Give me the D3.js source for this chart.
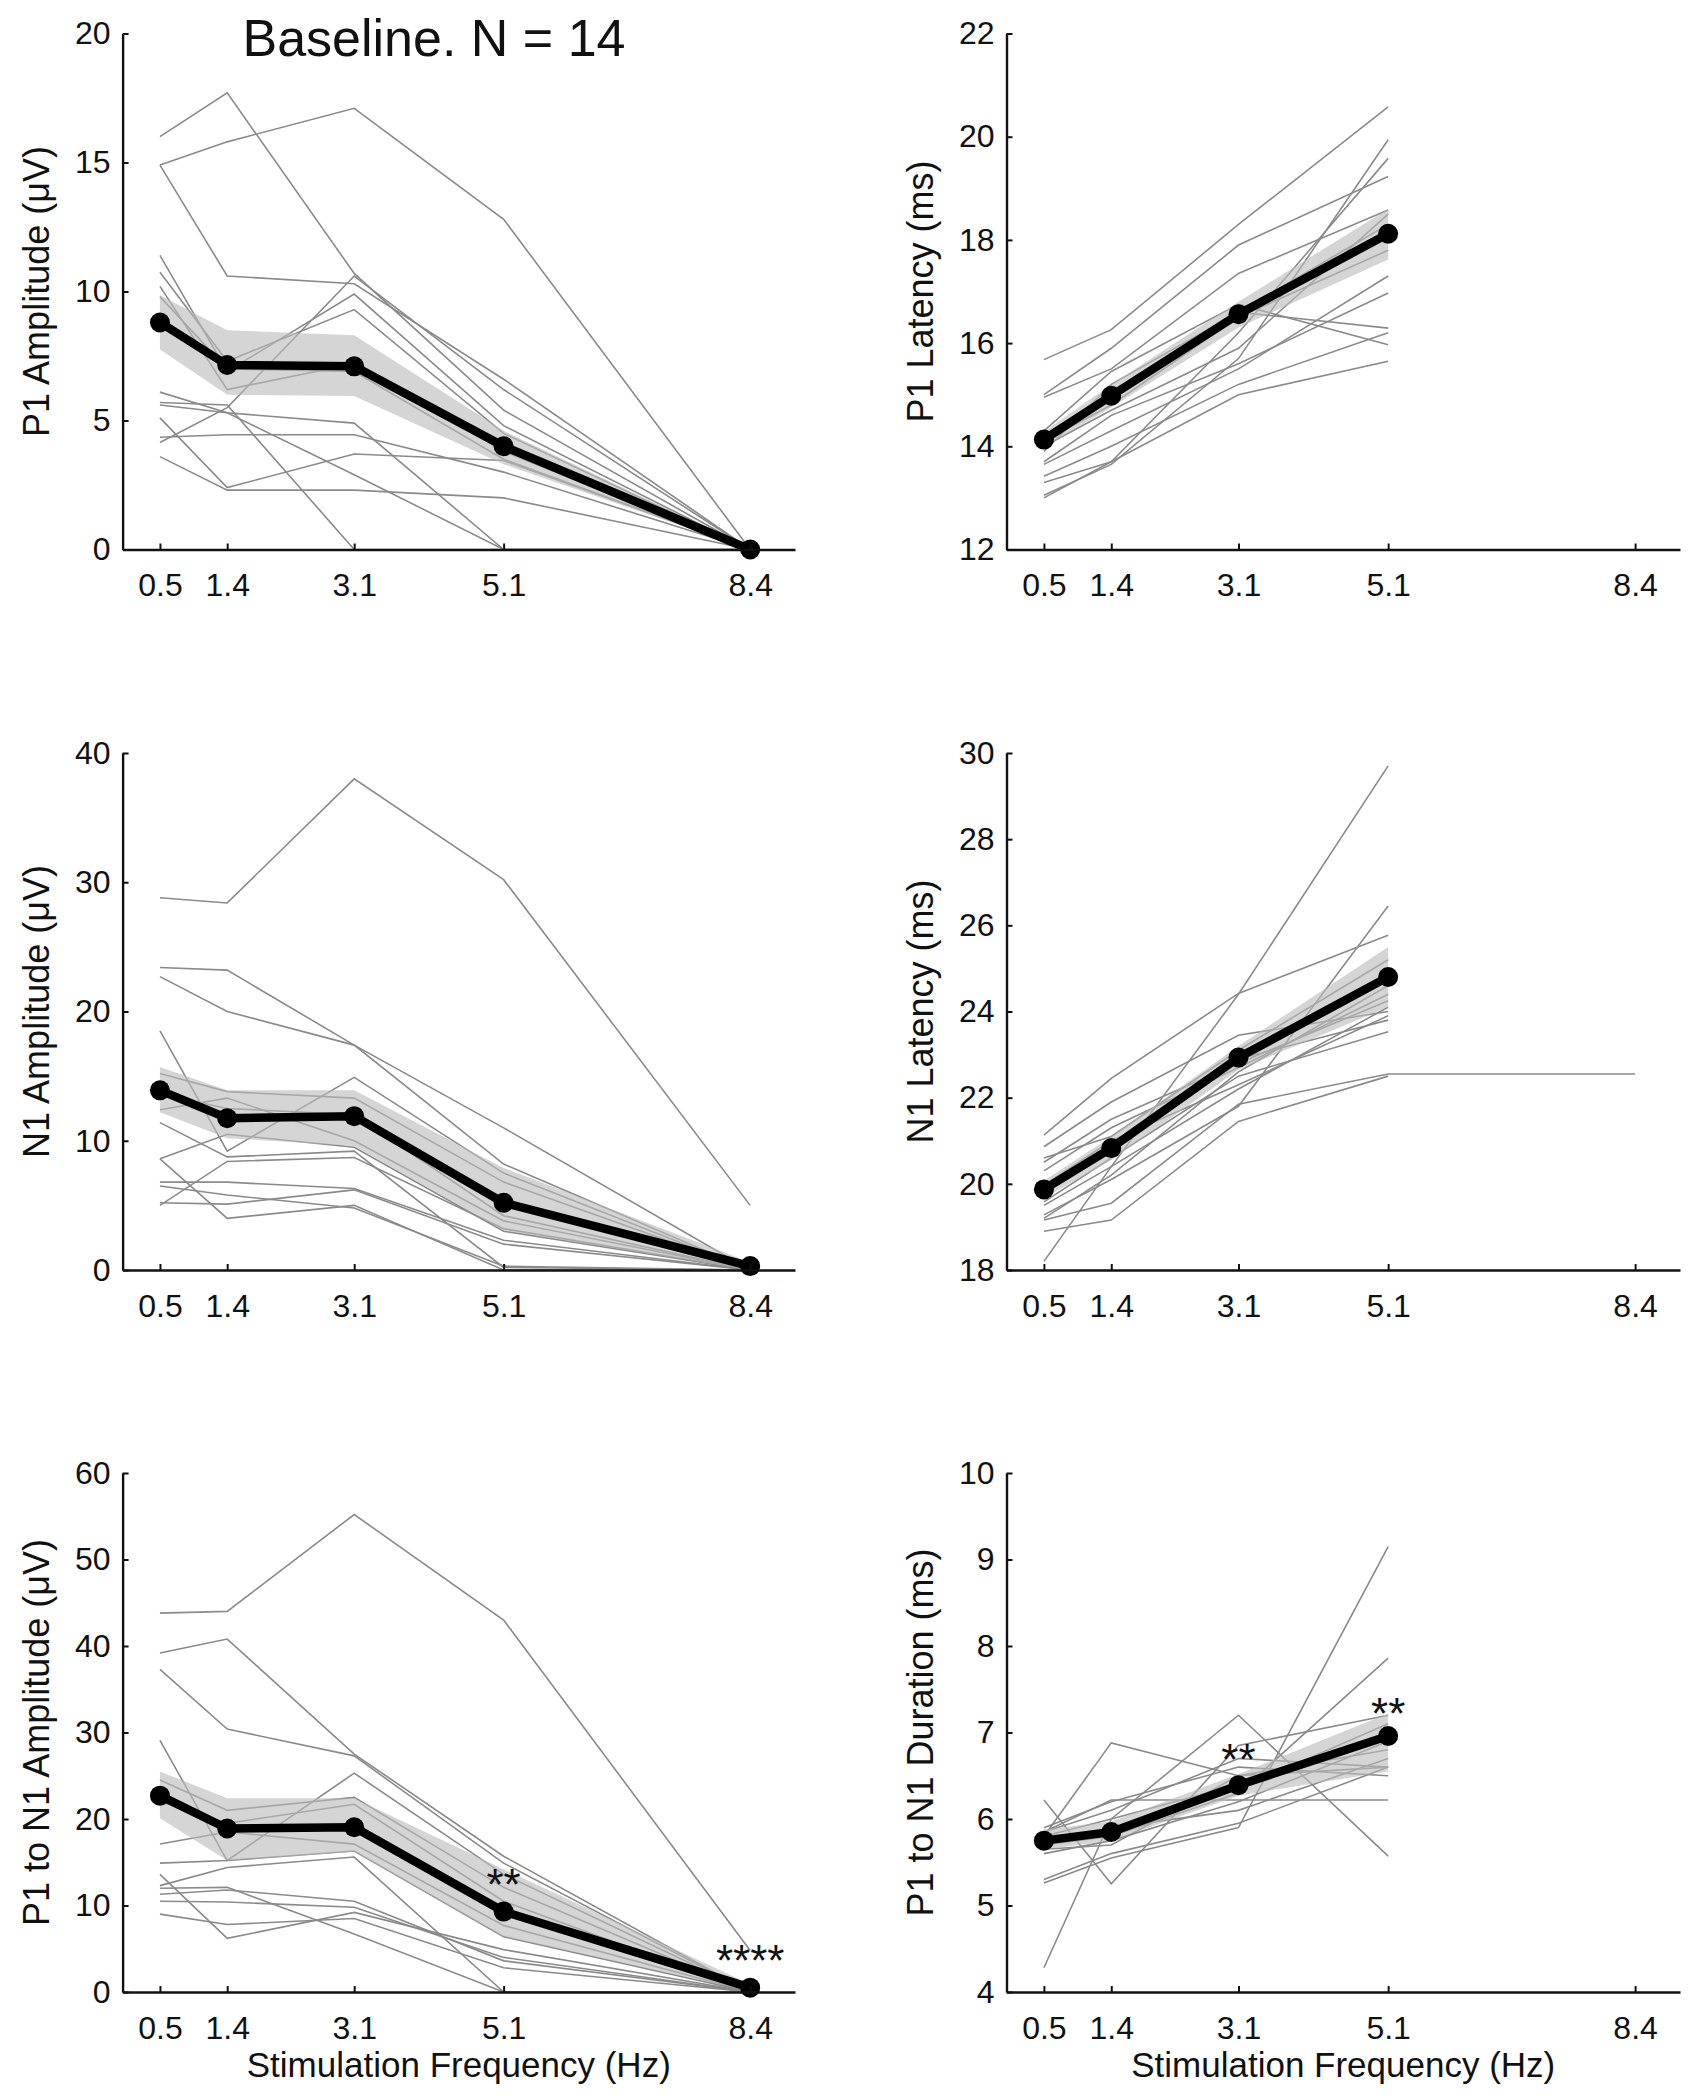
<!DOCTYPE html>
<html><head><meta charset="utf-8">
<script src="https://cdn.jsdelivr.net/npm/d3@7"></script>
<style>
body{margin:0;background:#fff;}
text{font-family:"Liberation Sans",Arial,Helvetica,sans-serif;fill:#111;}
</style>
</head><body>
<svg id="chart" width="1695" height="2100"></svg>
<script>
// ---------------- DATA ----------------
const frequencies = [0.5, 1.4, 3.1, 5.1, 8.4];
const xTickLabels = ["0.5", "1.4", "3.1", "5.1", "8.4"];
const titleText = "Baseline. N = 14";
const xAxisTitle = "Stimulation Frequency (Hz)";

// P1 amplitude (µV)
const p1AmpTicks = [0, 5, 10, 15, 20];
const p1AmpMean = [8.8, 7.15, 7.1, 4.0, 0.0];
const p1AmpLo   = [7.75, 6.0, 5.95, 3.3, 0.0];
const p1AmpHi   = [9.85, 8.5, 8.3, 4.6, 0.05];
const p1AmpSubjects = [
  [16.0, 17.7, 10.7, 5.4, 0],
  [14.9, 15.8, 17.1, 12.8, 0],
  [14.9, 10.6, 10.3, 6.6, 0],
  [11.4, 6.9, 9.9, 4.8, 0],
  [10.75, 7.3, 9.3, 4.5, 0],
  [10.2, 6.2, 7.2, 3.8, 0],
  [9.8, 7.0, 6.9, 3.5, 0],
  [6.1, 5.3, 4.9, 0, 0],
  [5.7, 5.6, 0, 0, 0],
  [5.6, 5.3, 2.9, 0, 0],
  [5.1, 2.4, 3.7, 3.45, 0],
  [4.35, 4.45, 4.45, 3.0, 0],
  [4.15, 5.5, 10.6, 6.2, 0],
  [3.6, 2.3, 2.3, 2.0, 0]
];

// P1 latency (ms)
const p1LatTicks = [12, 14, 16, 18, 20, 22];
const p1LatMean = [14.13, 14.98, 16.56, 18.12];
const p1LatLo   = [13.98, 14.75, 16.3, 17.62];
const p1LatHi   = [14.28, 15.2, 16.8, 18.6];
const p1LatSubjects = [
  [15.68, 16.26, 18.3, 20.58],
  [15.0, 15.9, 17.9, 19.23],
  [14.95, 15.5, 17.35, 18.58],
  [13.05, 13.65, 15.7, 19.94],
  [13.3, 13.7, 16.2, 19.58],
  [14.2, 15.0, 16.6, 18.3],
  [14.1, 14.8, 16.5, 17.8],
  [14.3, 15.45, 16.75, 15.97],
  [13.9, 15.2, 16.6, 16.29],
  [13.7, 14.6, 15.6, 16.97],
  [13.65, 14.3, 15.5, 17.3],
  [13.42, 14.0, 15.2, 16.2],
  [13.0, 13.7, 15.0, 15.65],
  [14.0, 14.7, 15.9, 18.5]
];

// N1 amplitude (µV)
const n1AmpTicks = [0, 10, 20, 30, 40];
const n1AmpMean = [13.9, 11.75, 11.9, 5.2, 0.3];
const n1AmpLo   = [12.2, 10.2, 9.6, 3.05, 0.0];
const n1AmpHi   = [15.7, 13.9, 13.9, 7.9, 0.6];
const n1AmpSubjects = [
  [28.8, 28.4, 38.0, 30.2, 5.0],
  [23.4, 23.2, 17.4, 11.0, 0],
  [22.7, 20.0, 17.4, 8.2, 0],
  [18.5, 9.2, 14.9, 7.5, 0],
  [15.2, 13.8, 13.3, 6.8, 0],
  [13.6, 12.5, 12.0, 4.2, 0],
  [12.4, 13.3, 10.0, 3.8, 0],
  [11.4, 8.75, 9.2, 0.2, 0],
  [8.6, 10.5, 9.5, 3.0, 0],
  [8.6, 4.0, 5.0, 0, 0],
  [6.8, 6.8, 6.3, 2.3, 0],
  [6.5, 5.8, 4.8, 0.3, 0],
  [5.2, 5.1, 6.2, 2.0, 0],
  [5.0, 8.4, 8.7, 3.2, 0]
];

// N1 latency (ms)
const n1LatTicks = [18, 20, 22, 24, 26, 28, 30];
const n1LatMean = [19.87, 20.83, 22.93, 24.8];
const n1LatLo   = [19.67, 20.55, 22.65, 24.1];
const n1LatHi   = [20.07, 21.1, 23.2, 25.5];
const n1LatSubjects = [
  [18.2, 20.4, 24.4, 29.7],
  [21.13, 22.45, 24.42, 25.77],
  [19.28, 20.1, 21.8, 26.45],
  [20.86, 21.9, 23.45, 24.0],
  [20.5, 21.5, 22.8, 24.25],
  [19.83, 20.9, 22.9, 23.8],
  [19.58, 20.6, 22.5, 23.53],
  [19.5, 20.4, 22.2, 24.1],
  [19.16, 19.55, 21.85, 22.55, 22.55],
  [18.9, 19.16, 21.45, 22.5],
  [19.2, 20.2, 22.6, 24.6],
  [19.97, 21.0, 22.3, 23.9],
  [20.6, 21.1, 23.1, 25.2],
  [20.3, 21.3, 22.7, 24.4]
];

// P1 to N1 amplitude (µV)
const p1n1AmpTicks = [0, 10, 20, 30, 40, 50, 60];
const p1n1AmpMean = [22.7, 18.9, 19.05, 9.3, 0.5];
const p1n1AmpLo   = [20.1, 15.2, 16.2, 6.4, 0.1];
const p1n1AmpHi   = [25.5, 22.4, 22.4, 14.2, 0.9];
const p1n1AmpSubjects = [
  [43.8, 44.0, 55.2, 43.0, 4.8],
  [39.2, 40.8, 27.5, 15.7, 0],
  [37.3, 30.4, 27.3, 14.9, 0],
  [29.1, 15.2, 25.3, 13.6, 0],
  [24.5, 21.0, 22.5, 12.1, 0],
  [22.0, 19.5, 21.7, 10.5, 0],
  [17.1, 18.5, 17.1, 7.7, 0],
  [14.9, 15.2, 16.3, 6.4, 0],
  [13.6, 6.2, 9.2, 4.9, 0],
  [12.3, 14.4, 15.6, 0, 0],
  [11.3, 11.8, 10.5, 3.6, 0],
  [9.0, 7.8, 8.5, 2.8, 0],
  [12.0, 12.1, 6.7, 0, 0],
  [10.5, 10.4, 9.8, 4.0, 0]
];
const p1n1AmpStars = [
  {freq: 5.1, level: 12.9, label: "**"},
  {freq: 8.4, level: 4.1, label: "****"}
];

// P1 to N1 duration (ms)
const durTicks = [4, 5, 6, 7, 8, 9, 10];
const durMean = [5.75, 5.85, 6.39, 6.96];
const durLo   = [5.65, 5.75, 6.27, 6.55];
const durHi   = [5.88, 5.97, 6.52, 7.22];
const durSubjects = [
  [4.28, 6.0, 7.2, 5.57],
  [5.26, 5.55, 5.9, 9.15],
  [5.8, 6.88, 6.5, 6.6],
  [6.22, 5.25, 6.85, 7.2],
  [5.7, 5.8, 6.3, 7.86],
  [5.85, 6.22, 6.22, 6.22],
  [5.3, 5.6, 5.95, 6.6],
  [5.7, 5.9, 6.1, 6.7],
  [5.8, 6.0, 6.4, 7.0],
  [5.9, 6.2, 6.6, 6.5],
  [5.6, 5.75, 6.2, 6.9],
  [5.75, 5.85, 6.35, 7.1],
  [5.65, 5.7, 6.5, 6.8],
  [5.85, 6.1, 6.7, 6.6]
];
const durStars = [
  {freq: 3.1, level: 6.73, label: "**"},
  {freq: 5.1, level: 7.27, label: "**"}
];

// ---------------- LAYOUT ----------------
const colX = [[122.6, 795], [1006.5, 1680]];
const rowY = [[549.5, 33.5], [1270, 753], [1992, 1473]];
const xDomain = [0, 9];

const panels = [
  {col:0,row:0,label:"P1 Amplitude (\u03bcV)", ticks:p1AmpTicks, mean:p1AmpMean, lo:p1AmpLo, hi:p1AmpHi, subjects:p1AmpSubjects, stars:[]},
  {col:1,row:0,label:"P1 Latency (ms)", ticks:p1LatTicks, mean:p1LatMean, lo:p1LatLo, hi:p1LatHi, subjects:p1LatSubjects, stars:[]},
  {col:0,row:1,label:"N1 Amplitude (\u03bcV)", ticks:n1AmpTicks, mean:n1AmpMean, lo:n1AmpLo, hi:n1AmpHi, subjects:n1AmpSubjects, stars:[]},
  {col:1,row:1,label:"N1 Latency (ms)", ticks:n1LatTicks, mean:n1LatMean, lo:n1LatLo, hi:n1LatHi, subjects:n1LatSubjects, stars:[]},
  {col:0,row:2,label:"P1 to N1 Amplitude (\u03bcV)", ticks:p1n1AmpTicks, mean:p1n1AmpMean, lo:p1n1AmpLo, hi:p1n1AmpHi, subjects:p1n1AmpSubjects, stars:p1n1AmpStars, xtitle:true},
  {col:1,row:2,label:"P1 to N1 Duration (ms)", ticks:durTicks, mean:durMean, lo:durLo, hi:durHi, subjects:durSubjects, stars:durStars, xtitle:true}
];

const svg = d3.select("#chart");
const TICK_FONT = 32, LABEL_FONT = 36;

panels.forEach(p => {
  const x = d3.scaleLinear().domain(xDomain).range(colX[p.col]);
  const y = d3.scaleLinear().domain([p.ticks[0], p.ticks[p.ticks.length-1]]).range(rowY[p.row]);
  const g = svg.append("g");

  // individual subjects
  const subjLine = d3.line()
    .defined(d => d[1] != null)
    .x(d => x(d[0])).y(d => y(d[1]));
  p.subjects.forEach(s => {
    g.append("path")
      .attr("d", subjLine(s.map((v,i) => [frequencies[i], v])))
      .attr("fill", "none")
      .attr("stroke", "#8a8a8a")
      .attr("stroke-width", 1.6);
  });

  // SEM band
  const bandData = p.mean.map((m,i) => ({f: frequencies[i], lo: p.lo[i], hi: p.hi[i]}));
  g.append("path")
    .attr("d", d3.area().x(d => x(d.f)).y0(d => y(d.lo)).y1(d => y(d.hi))(bandData))
    .attr("fill", "#bcbcbc")
    .attr("fill-opacity", 0.62)
    .attr("stroke", "none");

  // mean
  const meanData = p.mean.map((m,i) => [frequencies[i], m]);
  g.append("path")
    .attr("d", d3.line().x(d => x(d[0])).y(d => y(d[1]))(meanData))
    .attr("fill", "none")
    .attr("stroke", "#000")
    .attr("stroke-width", 8.5)
    .attr("stroke-linejoin", "round");
  g.selectAll("circle.m").data(meanData).enter().append("circle")
    .attr("cx", d => x(d[0])).attr("cy", d => y(d[1]))
    .attr("r", 10).attr("fill", "#000");

  // axes
  const yAxis = d3.axisLeft(y).tickValues(p.ticks).tickFormat(d3.format("d"))
    .tickSize(-6).tickSizeOuter(0).tickPadding(12);
  const ya = g.append("g").attr("transform", `translate(${colX[p.col][0]},0)`).call(yAxis);
  const xAxis = d3.axisBottom(x).tickValues(frequencies).tickFormat((d,i) => xTickLabels[i])
    .tickSize(-6).tickSizeOuter(0).tickPadding(24);
  const xa = g.append("g").attr("transform", `translate(0,${rowY[p.row][0]})`).call(xAxis);
  [ya, xa].forEach(a => {
    a.select(".domain").attr("stroke", "#111").attr("stroke-width", 2.4);
    a.selectAll(".tick line").attr("stroke", "#111").attr("stroke-width", 2);
    a.selectAll(".tick text").attr("font-size", TICK_FONT).attr("fill", "#111")
      .style("font-family", '"Liberation Sans", Arial, sans-serif');
    a.attr("font-family", null).attr("font-size", null);
  });

  // y label
  const midY = (rowY[p.row][0] + rowY[p.row][1]) / 2;
  g.append("text")
    .attr("transform", `translate(${colX[p.col][0] - 74},${midY}) rotate(-90)`)
    .attr("text-anchor", "middle")
    .attr("font-size", LABEL_FONT)
    .text(p.label);

  // x title
  if (p.xtitle) {
    g.append("text")
      .attr("x", (colX[p.col][0] + colX[p.col][1]) / 2)
      .attr("y", rowY[p.row][0] + 85)
      .attr("text-anchor", "middle")
      .attr("font-size", 35)
      .text(xAxisTitle);
  }

  // significance stars
  p.stars.forEach(s => {
    g.append("text")
      .attr("x", x(s.freq)).attr("y", y(s.level))
      .attr("dy", "0.44em")
      .attr("text-anchor", "middle")
      .attr("font-size", 44)
      .text(s.label);
  });
});

svg.append("text")
  .attr("x", 434).attr("y", 56)
  .attr("text-anchor", "middle")
  .attr("font-size", 52)
  .text(titleText);
</script>
</body></html>
